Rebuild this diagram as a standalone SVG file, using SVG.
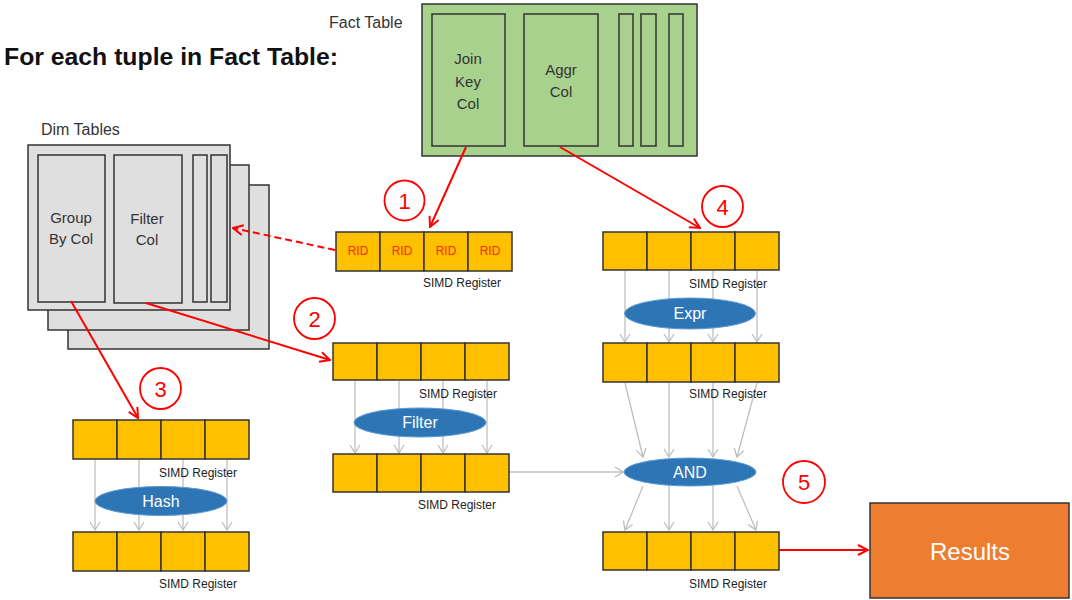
<svg xmlns="http://www.w3.org/2000/svg" width="1072" height="600" viewBox="0 0 1072 600">
<style>
text{font-family:"Liberation Sans",Arial,sans-serif;}
.reg{fill:#ffc000;stroke:#333;stroke-width:1.5;}
.lbl{font-size:12px;fill:#222;}
.fact{fill:#a9d18e;stroke:#333;stroke-width:1.5;}
.dim{fill:#dfdfdf;stroke:#333;stroke-width:1.5;}
.colt{font-size:15px;fill:#333;text-anchor:middle;}
.red{stroke:#ff0000;stroke-width:2;fill:none;marker-end:url(#ar);}
.gray{stroke:#bfbfbf;stroke-width:1.3;fill:none;marker-end:url(#ag);}
.op{fill:#2e75b6;stroke:#5b9bd5;stroke-width:1;}
.opt{font-size:16px;fill:#fff;text-anchor:middle;}
.num{fill:#fff;stroke:#ff0000;stroke-width:1.8;}
.numt{font-size:22px;fill:#ff0000;text-anchor:middle;}
.rid{font-size:12px;fill:#ff2a00;text-anchor:middle;}
</style>
<defs>
<marker id="ar" viewBox="0 0 12 12" refX="11" refY="6" markerWidth="12" markerHeight="12" markerUnits="userSpaceOnUse" orient="auto"><path d="M1,1 L11,6 L1,11" fill="none" stroke="#ff0000" stroke-width="2"/></marker>
<marker id="ag" viewBox="0 0 10 12" refX="9" refY="6" markerWidth="10" markerHeight="12" markerUnits="userSpaceOnUse" orient="auto"><path d="M1,1 L9,6 L1,11" fill="none" stroke="#bfbfbf" stroke-width="1.3"/></marker>
</defs>
<rect width="1072" height="600" fill="#fff"/>
<text x="4" y="65" font-size="24" font-weight="bold" fill="#111" textLength="334" lengthAdjust="spacingAndGlyphs">For each tuple in Fact Table:</text>

<g id="fact-table">
<text x="329" y="28" font-size="16" fill="#333">Fact Table</text>
<rect class="fact" x="422" y="4" width="275" height="152"/>
<rect class="fact" x="432" y="14" width="73" height="132"/>
<rect class="fact" x="524" y="14" width="74" height="132"/>
<rect class="fact" x="619" y="14" width="14" height="132"/>
<rect class="fact" x="641" y="14" width="15" height="132"/>
<rect class="fact" x="669" y="14" width="14" height="132"/>
<text class="colt" font-size="16" x="468" y="64">Join</text>
<text class="colt" font-size="16" x="468" y="87">Key</text>
<text class="colt" font-size="16" x="468" y="109">Col</text>
<text class="colt" font-size="16" x="561" y="75">Aggr</text>
<text class="colt" font-size="16" x="561" y="97">Col</text>
</g>

<g id="dim-tables">
<text x="41" y="135" font-size="16" fill="#333">Dim Tables</text>
<rect class="dim" x="68" y="185" width="201" height="164"/>
<rect class="dim" x="48" y="165" width="201" height="165"/>
<rect class="dim" x="28" y="145" width="202" height="165"/>
<rect class="dim" x="38" y="155" width="67" height="147"/>
<rect class="dim" x="114" y="155" width="68" height="148"/>
<rect class="dim" x="193" y="155" width="14" height="147"/>
<rect class="dim" x="211" y="155" width="16" height="147"/>
<text class="colt" x="71" y="223">Group</text>
<text class="colt" x="71" y="244">By Col</text>
<text class="colt" x="147" y="224">Filter</text>
<text class="colt" x="147" y="245">Col</text>
</g>

<g id="connectors">
<line class="red" x1="466" y1="147" x2="430" y2="227"/>
<line class="red" x1="560" y1="147" x2="700" y2="228"/>
<line class="red" x1="335" y1="250" x2="233" y2="228" stroke-dasharray="7,4"/>
<line class="red" x1="146" y1="303" x2="330" y2="360"/>
<line class="red" x1="71" y1="301" x2="138" y2="418"/>
<line class="red" x1="779" y1="550" x2="868" y2="550"/>
<line class="gray" x1="625" y1="271" x2="625" y2="342"/>
<line class="gray" x1="669" y1="271" x2="669" y2="342"/>
<line class="gray" x1="713" y1="271" x2="713" y2="342"/>
<line class="gray" x1="757" y1="271" x2="757" y2="342"/>
<line class="gray" x1="355" y1="381" x2="355" y2="453"/>
<line class="gray" x1="399" y1="381" x2="399" y2="453"/>
<line class="gray" x1="443" y1="381" x2="443" y2="453"/>
<line class="gray" x1="487" y1="381" x2="487" y2="453"/>
<line class="gray" x1="95" y1="460" x2="95" y2="530"/>
<line class="gray" x1="139" y1="460" x2="139" y2="530"/>
<line class="gray" x1="183" y1="460" x2="183" y2="530"/>
<line class="gray" x1="227" y1="460" x2="227" y2="530"/>
<line class="gray" x1="625" y1="383" x2="643" y2="457"/>
<line class="gray" x1="669" y1="383" x2="669" y2="457"/>
<line class="gray" x1="713" y1="383" x2="713" y2="457"/>
<line class="gray" x1="757" y1="383" x2="737" y2="457"/>
<line class="gray" x1="509" y1="472" x2="623" y2="472"/>
<line class="gray" x1="643" y1="486" x2="625" y2="530"/>
<line class="gray" x1="669" y1="486" x2="669" y2="530"/>
<line class="gray" x1="713" y1="486" x2="713" y2="530"/>
<line class="gray" x1="737" y1="486" x2="756" y2="530"/>
</g>

<g id="reg-rid">
<rect class="reg" x="336" y="232" width="44" height="39"/>
<rect class="reg" x="380" y="232" width="44" height="39"/>
<rect class="reg" x="424" y="232" width="44" height="39"/>
<rect class="reg" x="468" y="232" width="44" height="39"/>
<text class="rid" x="358" y="255">RID</text>
<text class="rid" x="402" y="255">RID</text>
<text class="rid" x="446" y="255">RID</text>
<text class="rid" x="490" y="255">RID</text>
<text class="lbl" x="423" y="287">SIMD Register</text>
</g>

<g id="reg-4">
<rect class="reg" x="603" y="232" width="44" height="38"/>
<rect class="reg" x="647" y="232" width="44" height="38"/>
<rect class="reg" x="691" y="232" width="44" height="38"/>
<rect class="reg" x="735" y="232" width="44" height="38"/>
<text class="lbl" x="689" y="288">SIMD Register</text>
</g>

<g id="op-expr">
<ellipse class="op" cx="690" cy="313.5" rx="65.5" ry="15.5"/>
<text class="opt" x="690" y="319">Expr</text>
</g>

<g id="reg-4b">
<rect class="reg" x="603" y="343" width="44" height="39"/>
<rect class="reg" x="647" y="343" width="44" height="39"/>
<rect class="reg" x="691" y="343" width="44" height="39"/>
<rect class="reg" x="735" y="343" width="44" height="39"/>
<text class="lbl" x="689" y="398">SIMD Register</text>
</g>

<g id="reg-2">
<rect class="reg" x="333" y="343" width="44" height="37"/>
<rect class="reg" x="377" y="343" width="44" height="37"/>
<rect class="reg" x="421" y="343" width="44" height="37"/>
<rect class="reg" x="465" y="343" width="44" height="37"/>
<text class="lbl" x="419" y="398">SIMD Register</text>
</g>

<g id="op-filter">
<ellipse class="op" cx="420" cy="422.5" rx="66" ry="14.5"/>
<text class="opt" x="420" y="428">Filter</text>
</g>

<g id="reg-2b">
<rect class="reg" x="333" y="454" width="44" height="38"/>
<rect class="reg" x="377" y="454" width="44" height="38"/>
<rect class="reg" x="421" y="454" width="44" height="38"/>
<rect class="reg" x="465" y="454" width="44" height="38"/>
<text class="lbl" x="418" y="509">SIMD Register</text>
</g>

<g id="reg-3">
<rect class="reg" x="73" y="420" width="44" height="39"/>
<rect class="reg" x="117" y="420" width="44" height="39"/>
<rect class="reg" x="161" y="420" width="44" height="39"/>
<rect class="reg" x="205" y="420" width="44" height="39"/>
<text class="lbl" x="159" y="477">SIMD Register</text>
</g>

<g id="op-hash">
<ellipse class="op" cx="161" cy="501" rx="66" ry="14.5"/>
<text class="opt" x="161" y="507">Hash</text>
</g>

<g id="reg-3b">
<rect class="reg" x="73" y="532" width="44" height="39"/>
<rect class="reg" x="117" y="532" width="44" height="39"/>
<rect class="reg" x="161" y="532" width="44" height="39"/>
<rect class="reg" x="205" y="532" width="44" height="39"/>
<text class="lbl" x="159" y="588">SIMD Register</text>
</g>

<g id="op-and">
<ellipse class="op" cx="690" cy="472" rx="66" ry="14"/>
<text class="opt" x="690" y="478">AND</text>
</g>

<g id="reg-final">
<rect class="reg" x="603" y="532" width="44" height="38"/>
<rect class="reg" x="647" y="532" width="44" height="38"/>
<rect class="reg" x="691" y="532" width="44" height="38"/>
<rect class="reg" x="735" y="532" width="44" height="38"/>
<text class="lbl" x="689" y="588">SIMD Register</text>
</g>

<g id="results">
<rect x="870" y="503" width="199" height="95" fill="#ed7d31" stroke="#333" stroke-width="1.5"/>
<text x="970" y="560" font-size="24" fill="#fff" text-anchor="middle">Results</text>
</g>

<g id="step-1"><circle class="num" cx="404.5" cy="200.5" r="20"/><text class="numt" x="404.5" y="208.5">1</text></g>
<g id="step-2"><circle class="num" cx="314.5" cy="318.5" r="20.5"/><text class="numt" x="314.5" y="326.5">2</text></g>
<g id="step-3"><circle class="num" cx="160.5" cy="388.5" r="20.5"/><text class="numt" x="160.5" y="396.5">3</text></g>
<g id="step-4"><circle class="num" cx="722.5" cy="206.5" r="20.5"/><text class="numt" x="722.5" y="214.5">4</text></g>
<g id="step-5"><circle class="num" cx="804" cy="482" r="21"/><text class="numt" x="804" y="490">5</text></g>
</svg>
